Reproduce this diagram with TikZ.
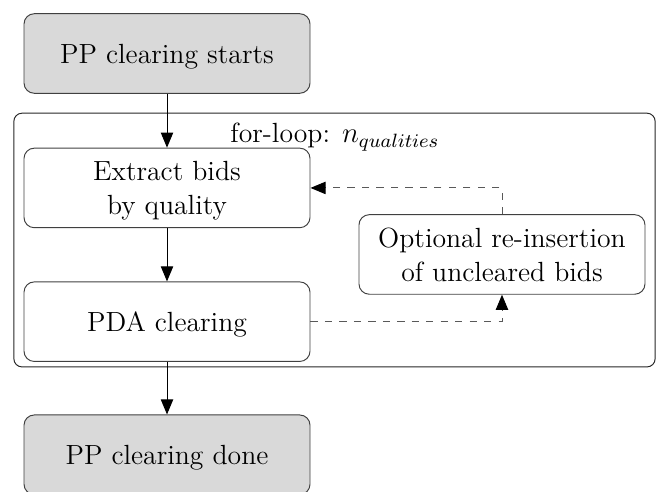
\documentclass[tikz,border=0pt]{standalone}
\usetikzlibrary{arrows.meta}

\begin{document}
\begin{tikzpicture}[
            every node/.style={text depth=0pt, align=center, font=\fontsize{11.5}{14}\selectfont},
            stepbox/.style={draw=black!75, rounded corners=.15cm, minimum width=4.17cm, minimum height=1.16cm},
            endbox/.style={stepbox, fill=black!15},
            loopbox/.style={draw=black!85, rounded corners=.12cm, minimum width=9.35cm, minimum height=3.7cm},
            line/.style={-{Triangle[length=.22cm, width=.18cm]}, black},
            dline/.style={-{Triangle[length=.22cm, width=.18cm, color=black]}, dashed, draw=black!65},
            ]

        \useasboundingbox (0, 0) rectangle (9.652, -7.173);

        \node[loopbox] (loop) at (4.877, -3.50) {};
        \node (label) at (4.884, -1.94) {for-loop: $n_{qualities}$};

        \node[endbox] (start) at (2.435, -0.78) {PP clearing starts};
        \node[stepbox] (extract) at (2.435, -2.74) {Extract bids\\by quality};
        \node[stepbox] (pda) at (2.435, -4.69) {PDA clearing};
        \node[stepbox] (reinsert) at (7.319, -3.71) {Optional re-insertion\\of uncleared bids};
        \node[endbox] (done) at (2.435, -6.63) {PP clearing done};

        \draw[line] (start) -- (extract);
        \draw[line] (extract) -- (pda);
        \draw[line] (pda) -- (done);
        \draw[dline] (pda.east) -| (reinsert.south);
        \draw[dline] (reinsert.north) |- (extract.east);
    \end{tikzpicture}
\end{document}
